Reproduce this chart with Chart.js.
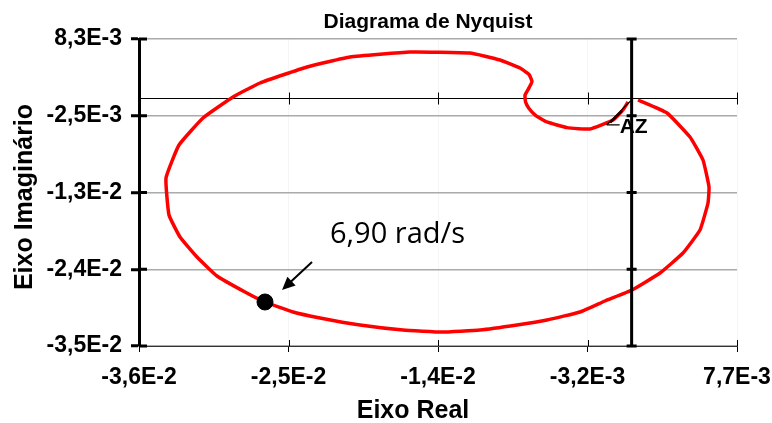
<!DOCTYPE html>
<html>
<head>
<meta charset="utf-8">
<script src="https://cdn.jsdelivr.net/npm/chart.js@4"></script>
<style>
  html, body { margin: 0; padding: 0; background: #fff; }
  #wrap { width: 772px; height: 423px; }
</style>
</head>
<body>
<div id="wrap"><canvas id="nyquist" width="772" height="423"></canvas></div>
<script>
// Nyquist locus G(jw): real and imaginary parts, in order of frequency
const realPart = [
  0.000465, 0.002585, 0.004265, 0.005215, 0.005654, 0.005581, 0.004996, 0.003754,
  0.002073, 0.000027, -0.001954, -0.003773, -0.006185, -0.008377, -0.011080, -0.013858,
  -0.016708, -0.019850, -0.022773, -0.024746, -0.026792, -0.028254, -0.030300, -0.031762,
  -0.033004, -0.033808, -0.034027, -0.033077, -0.031323, -0.029131, -0.027158, -0.023723,
  -0.020581, -0.016196, -0.011811, -0.009620, -0.008158, -0.007500, -0.007280, -0.007500,
  -0.007792, -0.007750, -0.007500, -0.007000, -0.006185, -0.004723, -0.003042, -0.001361,
  -0.000630, -0.000265
];
const imagPart = [
  -0.000303, -0.002137, -0.005522, -0.008766, -0.012574, -0.014831, -0.018639, -0.021884,
  -0.024704, -0.027101, -0.028654, -0.030205, -0.031333, -0.032038, -0.032744, -0.033026,
  -0.032744, -0.032038, -0.031051, -0.030205, -0.028794, -0.027384, -0.025127, -0.022447,
  -0.019626, -0.016523, -0.011305, -0.006650, -0.002843, 0.000120, 0.002094, 0.004351,
  0.005761, 0.006466, 0.006325, 0.005338, 0.004209, 0.003300, 0.002300, 0.001400,
  0.000400, -0.000600, -0.001500, -0.002500, -0.003400, -0.004200, -0.004394, -0.003125,
  -0.001714, -0.000585
];

// Highlighted frequency point
const markedReal = [-0.026792];
const markedImag = [-0.028794];
const markedLabel = '6,90 rad/s';

// Axis ticks
const xTickValues = [-0.036, -0.025075, -0.01415, -0.003225, 0.0077];
const xTickLabels = ['-3,6E-2', '-2,5E-2', '-1,4E-2', '-3,2E-3', '7,7E-3'];
const yTickValues = [-0.035, -0.024175, -0.01335, -0.002525, 0.0083];
const yTickLabels = ['-3,5E-2', '-2,4E-2', '-1,3E-2', '-2,5E-3', '8,3E-3'];

const chartTitle = 'Diagrama de Nyquist';
const xTitle = 'Eixo Real';
const yTitle = 'Eixo Imaginário';
const originNote = 'AZ';

const FONT = "'Liberation Sans', Arial, sans-serif";

const locus = realPart.map((x, i) => ({ x, y: imagPart[i] }));
const marked = markedReal.map((x, i) => ({ x, y: markedImag[i] }));

// Axis lines through the origin, annotations and titles
const overlay = {
  id: 'overlay',
  beforeDatasetsDraw(chart) {
    const { ctx, chartArea: a, scales: { x, y } } = chart;
    const y0 = Math.round(y.getPixelForValue(0)) + 0.5;
    ctx.save();
    // horizontal axis through Im = 0
    ctx.strokeStyle = '#000';
    ctx.lineWidth = 1;
    ctx.beginPath();
    ctx.moveTo(a.left, y0);
    ctx.lineTo(a.right, y0);
    xTickValues.forEach(v => {
      const px = Math.round(x.getPixelForValue(v)) + 0.5;
      ctx.moveTo(px, y0 - 6);
      ctx.lineTo(px, y0 + 6);
      // inner half of the bottom axis ticks
      ctx.moveTo(px, a.bottom - 6);
      ctx.lineTo(px, a.bottom);
    });
    ctx.stroke();
    // inner half of the left axis ticks
    ctx.lineWidth = 3;
    ctx.beginPath();
    yTickValues.forEach(v => {
      const py = y.getPixelForValue(v);
      ctx.moveTo(a.left, py);
      ctx.lineTo(a.left + 8, py);
    });
    ctx.stroke();
    ctx.restore();
  },
  afterDatasetsDraw(chart) {
    const { ctx, chartArea: a, scales: { x, y } } = chart;
    const x0 = x.getPixelForValue(0);
    const y0 = y.getPixelForValue(0);
    ctx.save();
    // vertical axis through Re = 0
    ctx.strokeStyle = '#000';
    ctx.lineWidth = 3;
    ctx.beginPath();
    ctx.moveTo(x0, a.top);
    ctx.lineTo(x0, a.bottom);
    yTickValues.forEach(v => {
      const py = y.getPixelForValue(v);
      ctx.moveTo(x0 - 5, py);
      ctx.lineTo(x0 + 5, py);
    });
    ctx.stroke();

    // "AZ" note at the origin
    ctx.lineWidth = 1.3;
    ctx.beginPath();
    ctx.moveTo(x0 - 25, y0 + 27);
    ctx.lineTo(x0 - 1, y0 + 3);
    ctx.moveTo(x0 - 25, y0 + 27);
    ctx.lineTo(x0 - 12, y0 + 27);
    ctx.moveTo(x0 - 21, y0 + 25);
    ctx.lineTo(x0 - 9, y0 + 13);
    ctx.stroke();
    ctx.fillStyle = '#000';
    ctx.font = 'bold 21px ' + FONT;
    ctx.textAlign = 'left';
    ctx.textBaseline = 'alphabetic';
    ctx.fillText(originNote, x0 - 12, y0 + 35);

    // label and arrow for the highlighted point
    const mx = x.getPixelForValue(markedReal[0]);
    const my = y.getPixelForValue(markedImag[0]);
    const sx = mx + 47, sy = my - 40, tx = mx + 17, ty = my - 12;
    const ang = Math.atan2(ty - sy, tx - sx);
    ctx.lineWidth = 2;
    ctx.beginPath();
    ctx.moveTo(sx, sy);
    ctx.lineTo(tx - 8 * Math.cos(ang), ty - 8 * Math.sin(ang));
    ctx.stroke();
    ctx.beginPath();
    ctx.moveTo(tx, ty);
    ctx.lineTo(tx - 13 * Math.cos(ang) + 6 * Math.sin(ang), ty - 13 * Math.sin(ang) - 6 * Math.cos(ang));
    ctx.lineTo(tx - 13 * Math.cos(ang) - 6 * Math.sin(ang), ty - 13 * Math.sin(ang) + 6 * Math.cos(ang));
    ctx.closePath();
    ctx.fill();
    ctx.font = "29px 'Open Sans', sans-serif";
    ctx.fillText(markedLabel, mx + 65, my - 59);
    ctx.restore();
  },
  afterDraw(chart) {
    const { ctx } = chart;
    ctx.save();
    ctx.fillStyle = '#000';
    ctx.textAlign = 'center';
    ctx.textBaseline = 'alphabetic';
    ctx.font = 'bold 21px ' + FONT;
    ctx.fillText(chartTitle, 428, 28);
    ctx.font = 'bold 25px ' + FONT;
    ctx.fillText(xTitle, 413, 418);
    ctx.translate(32, 197);
    ctx.rotate(-Math.PI / 2);
    ctx.fillText(yTitle, 0, 0);
    ctx.restore();
  }
};

new Chart(document.getElementById('nyquist'), {
  type: 'scatter',
  data: {
    datasets: [
      {
        label: 'G(jw)',
        data: locus,
        showLine: true,
        borderColor: '#ff0000',
        borderWidth: 3.5,
        pointRadius: 0,
        tension: 0.12,
        order: 2
      },
      {
        label: markedLabel,
        data: marked,
        showLine: false,
        pointRadius: 8,
        pointBackgroundColor: '#000',
        pointBorderColor: '#000',
        order: 1
      }
    ]
  },
  options: {
    responsive: false,
    devicePixelRatio: 1,
    animation: false,
    layout: { padding: { left: 0, top: 39, right: 35, bottom: 0 } },
    plugins: {
      legend: { display: false },
      tooltip: { enabled: false },
      title: { display: false }
    },
    scales: {
      x: {
        type: 'linear',
        min: -0.036,
        max: 0.0077,
        afterBuildTicks(s) { s.ticks = xTickValues.map(v => ({ value: v })); },
        afterFit(s) { s.height = 77; s.paddingLeft = 0; s.paddingRight = 0; },
        border: { display: true, color: '#333', width: 1 },
        grid: {
          color: 'rgba(0,0,0,0.04)',
          lineWidth: 1,
          tickColor: '#000',
          tickLength: 6,
          tickWidth: 1
        },
        ticks: {
          autoSkip: false,
          maxRotation: 0,
          padding: 12,
          color: '#000',
          font: { family: FONT, size: 23, weight: 'bold' },
          callback: (v, i) => xTickLabels[i]
        }
      },
      y: {
        type: 'linear',
        min: -0.035,
        max: 0.0083,
        afterBuildTicks(s) { s.ticks = yTickValues.map(v => ({ value: v })); },
        afterFit(s) { s.width = 139; s.paddingTop = 0; s.paddingBottom = 0; },
        border: { display: true, color: '#000', width: 3 },
        grid: {
          color: '#aaaaaa',
          lineWidth: 1.5,
          tickColor: '#000',
          tickLength: 8,
          tickWidth: 3
        },
        ticks: {
          padding: 9,
          color: '#000',
          font: { family: FONT, size: 23, weight: 'bold' },
          callback: (v, i) => yTickLabels[i]
        }
      }
    }
  },
  plugins: [overlay]
});
</script>
</body>
</html>
